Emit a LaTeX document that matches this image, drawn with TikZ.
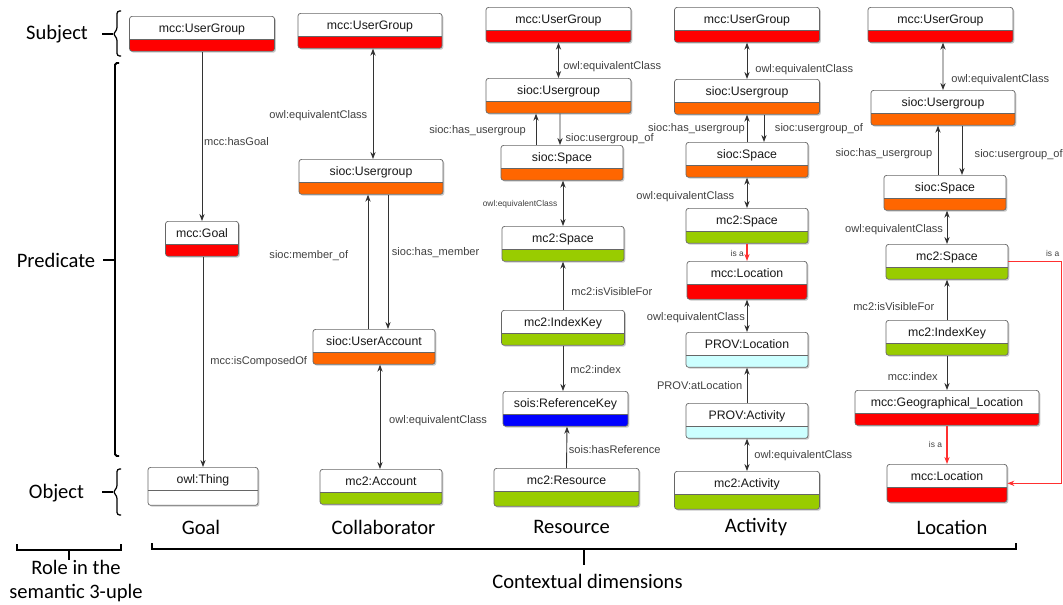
\documentclass[tikz,border=0pt]{standalone}
\usepackage{fontspec}
\setmainfont{Carlito}
\newfontfamily\boxfont{Liberation Sans}
\usetikzlibrary{arrows.meta,shadows}
\definecolor{clsred}{HTML}{FF0000}
\definecolor{clsorange}{HTML}{FF6600}
\definecolor{clsgreen}{HTML}{99CC00}
\definecolor{clsblue}{HTML}{0000FF}
\definecolor{clscyan}{HTML}{CCFFFF}
\definecolor{isared}{HTML}{FF3030}
\definecolor{linegray}{HTML}{333333}
\tikzset{
	cls/.style={draw=black!60, fill=white, rounded corners=1.5pt, inner sep=0pt, anchor=north,
		text height=9.3pt, text depth=10.6pt, font=\boxfont\fontsize{7}{8}\selectfont, text=black!90,
		drop shadow={shadow xshift=0.8pt, shadow yshift=-0.8pt, fill=black!35, opacity=0.6},
		path picture={
			\fill[#1, sharp corners] (path picture bounding box.south west) rectangle ([yshift=-0.47cm]path picture bounding box.north east);
			\draw[black!60, sharp corners] ([yshift=-0.47cm]path picture bounding box.north west) -- ([yshift=-0.47cm]path picture bounding box.north east);
		}},
	tall/.style={text depth=12.3pt},
	rel/.style={draw=linegray, line width=0.5pt},
	isa/.style={line width=0.6pt, draw=isared, ->},
	lbl/.style={font=\boxfont\fontsize{6.3}{7}\selectfont, text=black!75, inner sep=1pt},
	tiny/.style={lbl, font=\boxfont\fontsize{4.8}{5}\selectfont},
	dim/.style={font=\fontsize{11.7}{14.2}\selectfont},
	bracket/.style={line width=1.1pt, black}
}

\begin{document}
\begin{tikzpicture}[x=0.02cm, y=-0.02cm, >={Stealth[length=4pt,width=3pt]}]
		%%%%% START %%%%%
		\useasboundingbox (0,0) rectangle (1063,605);
		
		% roles
		\node[dim] (subj) at (57,34) {Subject};
		\node[dim] (pred) at (56,260) {Predicate};
		\node[dim] (obj) at (56.5,493) {Object};
		\node[dim, align=center] (role) at (76,581) {Role in the\\semantic 3-uple};
		
		\draw[line width=0.7pt, rounded corners=1.5pt] (121,11) -- (117,11) -- (117,30) -- (113,34) -- (117,38) -- (117,56) -- (121,56);
		\draw[line width=0.7pt] (102,34) -- (113,34);
		\draw[bracket, rounded corners=1pt] (119,63) -- (115,63) -- (115,456) -- (119,456);
		\draw[line width=0.7pt] (103,260) -- (115,260);
		\draw[line width=0.7pt, rounded corners=1.5pt] (121,469) -- (117,469) -- (117,488) -- (113,492) -- (117,496) -- (117,515) -- (121,515);
		\draw[line width=0.7pt] (102,492) -- (113,492);
		\draw[line width=0.9pt] (17,544) -- (17,550) -- (121,550) -- (121,544);
		\draw[line width=0.6pt] (69,550) -- (69,560);
		
		% dimensions
		\node[dim] (dgoal) at (201,527) {Goal};
		\node[dim] (dcoll) at (383.5,527) {Collaborator};
		\node[dim] (dres) at (571.5,527) {Resource};
		\node[dim] (dact) at (756,527) {Activity};
		\node[dim] (dloc) at (952,527) {Location};
		\node[dim] (ctx) at (587.5,581) {Contextual dimensions};
		\draw[bracket] (152,543) -- (152,549) -- (1016,549) -- (1016,543);
		\draw[bracket] (584,549) -- (584,565);
		
		% Goal
		\node[cls=clsred, minimum width=2.9cm] (gug) at (202,16) {mcc:UserGroup};
		\node[cls=clsred, minimum width=1.46cm] (goal) at (202,221) {mcc:Goal};
		\node[cls=white, tall, minimum width=2.2cm] (thing) at (203,467) {owl:Thing};
		
		\draw[rel, ->] (gug.south) -- (goal.north) node[lbl, right, pos=.53] {mcc:hasGoal};
		\draw[rel, ->] ([shift={(1,0)}]goal.south) -- (thing.north) node[lbl, right, pos=.5, xshift=3pt] {mcc:isComposedOf};
		
		% Collaborator
		\node[cls=clsred, minimum width=2.88cm] (cug) at (370,13) {mcc:UserGroup};
		\node[cls=clsorange, minimum width=2.88cm] (csug) at (371,159) {sioc:Usergroup};
		\node[cls=clsorange, minimum width=2.44cm] (cacc) at (374,329) {sioc:UserAccount};
		\node[cls=clsgreen, minimum width=2.44cm] (cmacc) at (381,469) {mc2:Account};
		
		\draw[rel, <->] ([shift={(3,0)}]cug.south) -- ([shift={(2,0)}]csug.north) node[lbl, left, pos=.61, xshift=-2pt] {owl:equivalentClass};
		\draw[rel, ->] ([shift={(-6,0)}]cacc.north) -- ([shift={(-3,0)}]csug.south) node[lbl, left, pos=.55, xshift=-10pt] {sioc:member\_of};
		\draw[rel, ->] ([shift={(17,0)}]csug.south) -- ([shift={(14,0)}]cacc.north) node[lbl, right, pos=.43, xshift=1pt] {sioc:has\_member};
		\draw[rel, <->] ([shift={(6,0)}]cacc.south) -- ([shift={(-1,0)}]cmacc.north) node[lbl, right, pos=.54, xshift=4pt] {owl:equivalentClass};
		
		% Resource
		\node[cls=clsred, minimum width=2.9cm] (rug) at (558.5,7) {mcc:UserGroup};
		\node[cls=clsorange, minimum width=2.9cm] (rsug) at (558.5,78) {sioc:Usergroup};
		\node[cls=clsorange, minimum width=2.44cm] (rsp) at (562,145) {sioc:Space};
		\node[cls=clsgreen, minimum width=2.44cm] (rmsp) at (563,226) {mc2:Space};
		\node[cls=clsgreen, minimum width=2.46cm] (rik) at (563,310) {mc2:IndexKey};
		\node[cls=clsblue, minimum width=2.5cm] (rrk) at (565.5,391) {sois:ReferenceKey};
		\node[cls=clsgreen, tall, minimum width=2.9cm] (rres) at (566.5,468) {mc2:Resource};
		
		\draw[rel, <->] (rug.south) -- (rsug.north) node[lbl, right, pos=.68, xshift=1.5pt] {owl:equivalentClass};
		\draw[rel, ->] ([shift={(-26,0)}]rsp.north) -- ([shift={(-22.5,0)}]rsug.south) node[lbl, left, pos=.47, xshift=-4.5pt] {sioc:has\_usergroup};
		\draw[rel, ->] ([shift={(1.5,0)}]rsug.south) -- ([shift={(-2,0)}]rsp.north) node[lbl, right, pos=.8, xshift=2pt] {sioc:usergroup\_of};
		\draw[rel, <->] ([shift={(1,0)}]rsp.south) -- (rmsp.north) node[tiny, left, pos=.53, xshift=-2pt] {owl:equivalentClass};
		\draw[rel, ->] (rik.north) -- (rmsp.south) node[lbl, right, pos=.39, xshift=3.5pt] {mc2:isVisibleFor};
		\draw[rel, ->] (rik.south) -- ([shift={(-2.5,0)}]rrk.north) node[lbl, right, pos=.52, xshift=3pt] {mc2:index};
		\draw[rel, ->] (rres.north) -- ([shift={(1.5,0)}]rrk.south) node[lbl, right, pos=.44] {sois:hasReference};
		
		% Activity
		\node[cls=clsred, minimum width=2.9cm] (aug) at (747,7) {mcc:UserGroup};
		\node[cls=clsorange, minimum width=2.9cm] (asug) at (747,79) {sioc:Usergroup};
		\node[cls=clsorange, minimum width=2.44cm] (asp) at (747,142) {sioc:Space};
		\node[cls=clsgreen, minimum width=2.44cm] (amsp) at (747,208) {mc2:Space};
		\node[cls=clsred, tall, minimum width=2.4cm] (aloc) at (747,261) {mcc:Location};
		\node[cls=clscyan, minimum width=2.44cm] (aprl) at (747,332) {PROV:Location};
		\node[cls=clscyan, minimum width=2.44cm] (apra) at (747,403) {PROV:Activity};
		\node[cls=clsgreen, tall, minimum width=2.9cm] (amact) at (747,471) {mc2:Activity};
		
		\draw[rel, <->] (aug.south) -- (asug.north) node[lbl, right, pos=.73, xshift=3.5pt] {owl:equivalentClass};
		\draw[rel, ->] (asp.north) -- (asug.south) node[lbl, left, pos=.5] {sioc:has\_usergroup};
		\draw[rel, ->] ([shift={(17,0)}]asug.south) -- ([shift={(17,0)}]asp.north) node[lbl, right, pos=.5, xshift=5pt] {sioc:usergroup\_of};
		\draw[rel, <->] (asp.south) -- (amsp.north) node[lbl, left, pos=.62, xshift=-6pt] {owl:equivalentClass};
		\draw[isa] (amsp.south) -- (aloc.north) node[tiny, left, pos=.55, xshift=-0.5pt] {is a};
		\draw[rel, <->] (aloc.south) -- (aprl.north) node[lbl, left, pos=.57] {owl:equivalentClass};
		\draw[rel, ->] (apra.north) -- (aprl.south) node[lbl, left, pos=.5, xshift=-1.5pt] {PROV:atLocation};
		\draw[rel, <->] (apra.south) -- (amact.north) node[lbl, right, pos=.53, xshift=3pt] {owl:equivalentClass};
		
		% Location
		\node[cls=clsred, minimum width=2.9cm] (lug) at (940.5,7) {mcc:UserGroup};
		\node[cls=clsorange, minimum width=2.88cm] (lsug) at (943,90) {sioc:Usergroup};
		\node[cls=clsorange, minimum width=2.44cm] (lsp) at (945,175) {sioc:Space};
		\node[cls=clsgreen, minimum width=2.44cm] (lmsp) at (947,244) {mc2:Space};
		\node[cls=clsgreen, minimum width=2.44cm] (lik) at (947,320) {mc2:IndexKey};
		\node[cls=clsred, minimum width=3.68cm] (lgeo) at (947,390) {mcc:Geographical\_Location};
		\node[cls=clsred, tall, minimum width=2.4cm] (lloc) at (947,464) {mcc:Location};
		
		\draw[rel, <->] ([shift={(2.5,0)}]lug.south) -- (lsug.north) node[lbl, right, pos=.79, xshift=3.5pt] {owl:equivalentClass};
		\draw[rel, ->] ([shift={(-7,0)}]lsp.north) -- ([shift={(-5,0)}]lsug.south) node[lbl, left, pos=.43, xshift=-2pt] {sioc:has\_usergroup};
		\draw[rel, ->] ([shift={(19,0)}]lsug.south) -- ([shift={(17,0)}]lsp.north) node[lbl, right, pos=.59, xshift=6pt] {sioc:usergroup\_of};
		\draw[rel, <->] ([shift={(2,0)}]lsp.south) -- (lmsp.north) node[lbl, left, pos=.56, xshift=-1pt] {owl:equivalentClass};
		\draw[rel, ->] (lik.north) -- (lmsp.south) node[lbl, left, pos=.34, xshift=-6pt] {mc2:isVisibleFor};
		\draw[rel, ->] (lik.south) -- (lgeo.north) node[lbl, left, pos=.61, xshift=-4pt] {mcc:index};
		\draw[isa] (lgeo.south) -- (lloc.north) node[tiny, left, pos=.49, xshift=-1.5pt] {is a};
		\draw[isa] (lmsp.east) -- ++(53,0) coordinate (elb) |- (lloc.east);
		\node[tiny, above left, yshift=2pt] (isalbl) at (elb) {is a};
		
		%%%%% END %%%%%
\end{tikzpicture}
\end{document}
